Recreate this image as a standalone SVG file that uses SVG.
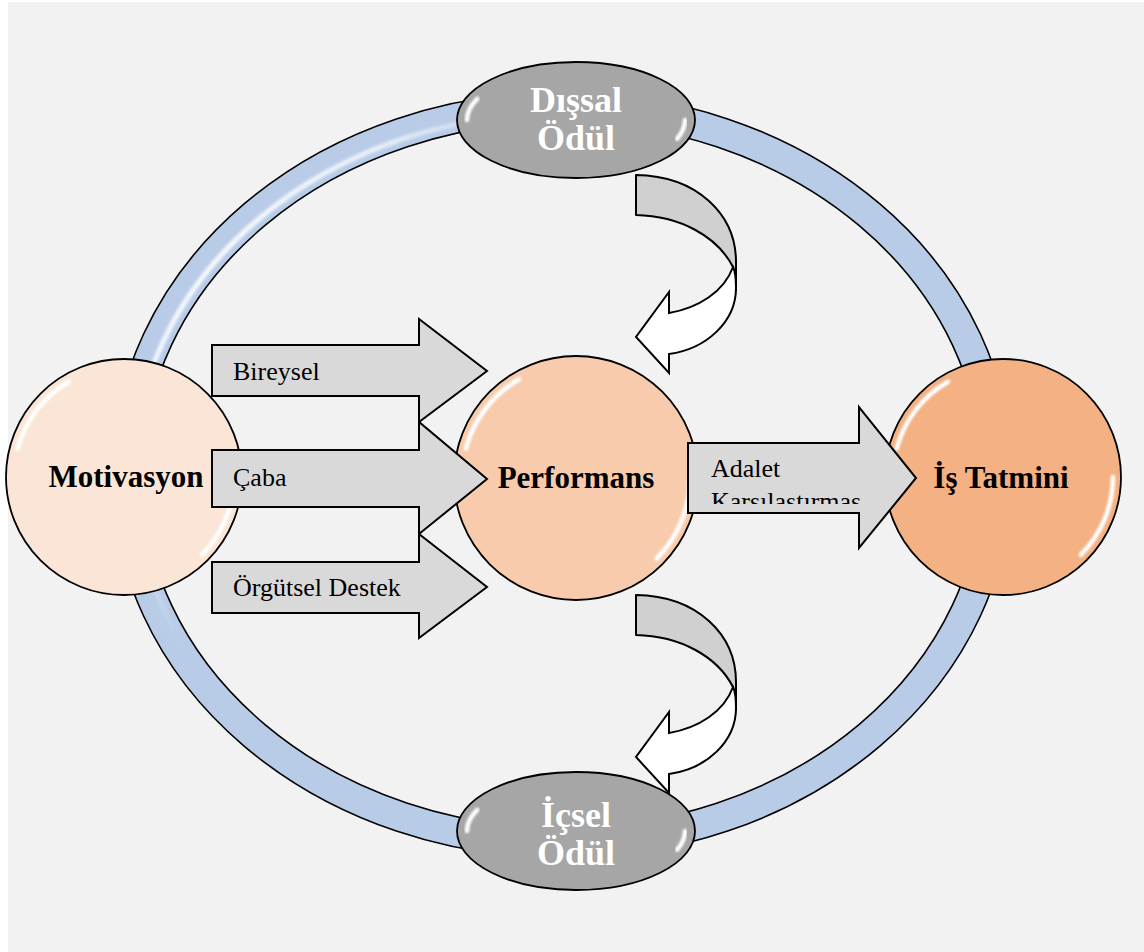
<svg xmlns="http://www.w3.org/2000/svg" width="1144" height="952" viewBox="0 0 1144 952">
<defs>
<style>
.bg{fill:#f2f2f2}
.edge{fill:none;stroke:#000;stroke-width:1.6}
.circ{stroke:#000;stroke-width:1.8}
.oval{fill:#a6a6a6;stroke:#000;stroke-width:1.8}
.gloss{fill:none;stroke:#fff;stroke-width:4.5;stroke-linecap:round;filter:url(#soft)}
.blk{fill:#d9d9d9;stroke:#000;stroke-width:2;stroke-linejoin:miter}
.back{fill:#d0d0d0;stroke:#000;stroke-width:2;stroke-linejoin:round}
.front{fill:#fff;stroke:#000;stroke-width:2;stroke-linejoin:miter}
.lbl{font-family:"Liberation Serif","Times New Roman",serif;font-size:26px;fill:#000}
.nt{font-family:"Liberation Serif","Times New Roman",serif;font-size:31px;font-weight:bold;fill:#000;text-anchor:middle}
.ot{font-family:"Liberation Serif","Times New Roman",serif;font-size:36px;font-weight:bold;fill:#fff;text-anchor:middle}
</style>
<filter id="soft" x="-20%" y="-20%" width="140%" height="140%"><feGaussianBlur stdDeviation="1"/></filter>
<filter id="soft2" x="-5%" y="-5%" width="110%" height="110%"><feGaussianBlur stdDeviation="1.5"/></filter>
<radialGradient id="ringHi" gradientUnits="userSpaceOnUse" cx="240" cy="290" r="360">
<stop offset="0" stop-color="#fff" stop-opacity="0.95"/>
<stop offset="0.55" stop-color="#fff" stop-opacity="0.7"/>
<stop offset="1" stop-color="#fff" stop-opacity="0"/>
</radialGradient>
<clipPath id="adClip"><rect x="688" y="443" width="174" height="61"/></clipPath>
<g id="curved">
<path class="back" d="M636,175 C698,176 736,215 736,262 L736,290 L733,267 C717,236 680,216 636,215 Z"/>
<path class="front" d="M733,267 C736,273 736,280 736,288 C736,322 706,349 669,354 L669,373 L636,337 L669,292 L669,313 C698,308 724,292 733,267 Z"/>
</g>
</defs>
<rect class="bg" x="8" y="2" width="1136" height="950"/>
<g id="ring">
<ellipse cx="562" cy="475" rx="435" ry="368" fill="none" stroke="#b8cce8" stroke-width="30"/>
<ellipse cx="562" cy="475" rx="429" ry="362" fill="none" stroke="url(#ringHi)" stroke-width="5" filter="url(#soft2)"/>
<ellipse class="edge" cx="562" cy="475" rx="450" ry="383"/>
<ellipse class="edge" cx="562" cy="475" rx="420" ry="353"/>
</g>
<g id="node-dissal">
<ellipse class="oval" cx="576" cy="120" rx="119" ry="58"/>
<path class="gloss" d="M467,120 A109,50 0 0 1 477.2,98.9"/>
<path class="gloss" d="M685,120 A109,50 0 0 1 677.1,138.7"/>
<text class="ot" x="576" y="112">Dışsal</text>
<text class="ot" x="576" y="150">Ödül</text>
</g>
<g id="node-icsel">
<ellipse class="oval" cx="576" cy="831" rx="119" ry="59"/>
<path class="gloss" d="M467,831 A109,50 0 0 1 477.2,809.9"/>
<path class="gloss" d="M685,831 A109,50 0 0 1 677.1,849.7"/>
<text class="ot" x="576" y="827">İçsel</text>
<text class="ot" x="576" y="865">Ödül</text>
</g>
<g id="node-motivasyon">
<circle class="circ" cx="124" cy="477" r="118" fill="#fbe5d6"/>
<path class="gloss" d="M17.7,448.5 A110,110 0 0 1 69,381.7"/>
<path class="gloss" d="M234,477 A110,110 0 0 1 201.8,554.8"/>
<text class="nt" x="126" y="487">Motivasyon</text>
</g>
<g id="node-performans">
<circle class="circ" cx="576" cy="478" r="122" fill="#f8cbad"/>
<path class="gloss" d="M465.9,448.5 A114,114 0 0 1 519,379.3"/>
<path class="gloss" d="M690,478 A114,114 0 0 1 656.6,558.6"/>
<text class="nt" x="576" y="488">Performans</text>
</g>
<g id="node-istatmini">
<circle class="circ" cx="1003" cy="477" r="118" fill="#f4b183"/>
<path class="gloss" d="M896.7,448.5 A110,110 0 0 1 948,381.7"/>
<path class="gloss" d="M1113,477 A110,110 0 0 1 1080.8,554.8"/>
<text class="nt" x="1001" y="488">İş Tatmini</text>
</g>
<g id="connectors">
<g id="arrow-bireysel">
<path class="blk" d="M212,345 H419 V319 L487,371 L419,422 V396 H212 Z"/>
<text class="lbl" x="233" y="380">Bireysel</text>
</g>
<g id="arrow-caba">
<path class="blk" d="M212,450 H419 V422 L487,479 L419,534 V507 H212 Z"/>
<text class="lbl" x="233" y="486">Çaba</text>
</g>
<g id="arrow-orgutsel">
<path class="blk" d="M212,562 H419 V534 L487,587 L419,638 V613 H212 Z"/>
<text class="lbl" x="233" y="596">Örgütsel Destek</text>
</g>
<g id="arrow-adalet">
<path class="blk" d="M688,443 H859 V407 L916,478 L859,548 V513 H688 Z"/>
<text class="lbl" x="711" y="477">Adalet</text>
<text class="lbl" x="711" y="510" clip-path="url(#adClip)">Karşılaştırması</text>
</g>
<use id="curved-top" href="#curved"/>
<use id="curved-bottom" href="#curved" transform="translate(0,420)"/>
</g>
</svg>
